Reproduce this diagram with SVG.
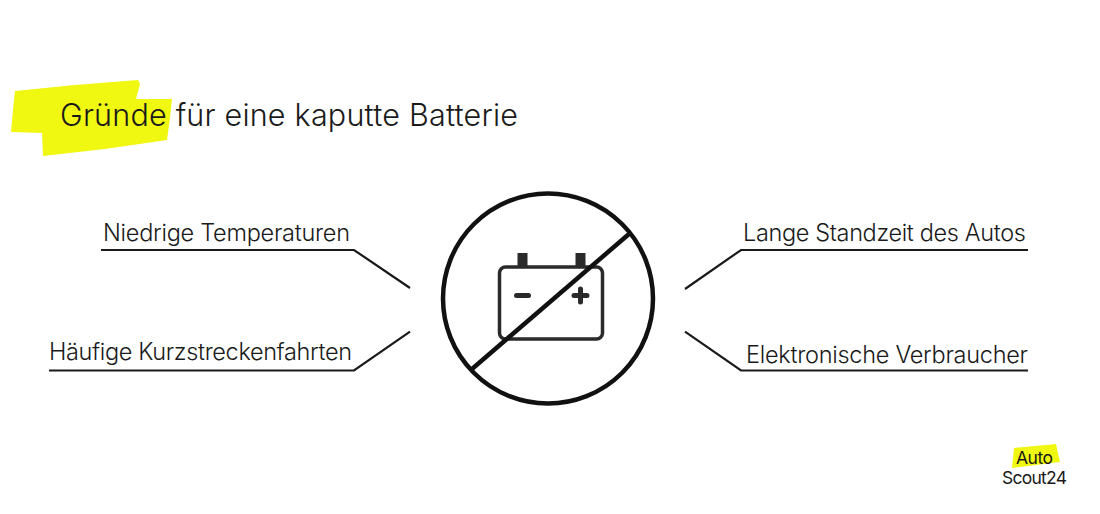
<svg xmlns="http://www.w3.org/2000/svg" width="1100" height="514" viewBox="0 0 1100 514">
<style>
text{font-family:"Inter","Liberation Sans",sans-serif;fill:#1a1a1a}
.t{font-weight:300;font-size:23.5px}
.h{font-weight:300;font-size:30.500px}
.l{font-weight:400;font-size:17.500px}
.y{fill:#f0f812}
.c{fill:none;stroke:#1a1a1a;stroke-width:2.200}
.k{fill:none;stroke:#111;stroke-width:4.500}
.b{fill:none;stroke:#2a2a2a;stroke-width:3.500}
.s{fill:none;stroke:#2a2a2a;stroke-width:5;stroke-linecap:round}
</style>
<rect width="1100" height="514" fill="#fff"/>
<g id="title">
<path class="y" d="M15 91L75 85L138 80L140 84L136 99L172 99L170 118L167 140L105 149L43 156L42 133L11 132L13 110Z"/>
<text class="h" x="60" y="125.500" textLength="458" lengthAdjust="spacing">Gründe für eine kaputte Batterie</text>
</g>
<g id="connectors">
<path class="c" d="M101 250H354L410 288"/>
<path class="c" d="M49 370.500H354L410 331.700"/>
<path class="c" d="M1028 250H741L685 289"/>
<path class="c" d="M1028 370.500H741L685 331.700"/>
</g>
<g id="battery-icon">
<circle class="k" cx="548" cy="298.500" r="105"/>
<rect class="b" x="499.500" y="267" width="103" height="72" rx="6"/>
<rect x="517.500" y="253" width="10" height="14" fill="#2a2a2a"/>
<rect x="575.500" y="253" width="10" height="14" fill="#2a2a2a"/>
<path class="s" d="M516.500 295.500H528.500"/>
<path class="s" d="M574 295.500H587M580.500 289V302"/>
<path class="k" d="M629 234L472 369"/>
</g>
<g id="label-niedrige"><text class="t" x="103" y="241" textLength="247" lengthAdjust="spacing">Niedrige Temperaturen</text></g>
<g id="label-haeufige"><text class="t" x="49" y="360" textLength="303" lengthAdjust="spacing">Häufige Kurzstreckenfahrten</text></g>
<g id="label-lange"><text class="t" x="743" y="241" textLength="283" lengthAdjust="spacing">Lange Standzeit des Autos</text></g>
<g id="label-elektronische"><text class="t" x="746" y="362.500" textLength="282" lengthAdjust="spacing">Elektronische Verbraucher</text></g>
<g id="logo">
<path class="y" d="M1014 448L1056 444L1060 462L1012 468Z"/>
<text class="l" x="1016" y="464" textLength="37" lengthAdjust="spacing">Auto</text>
<text class="l" x="1002" y="484" textLength="65" lengthAdjust="spacing">Scout24</text>
</g>
</svg>
